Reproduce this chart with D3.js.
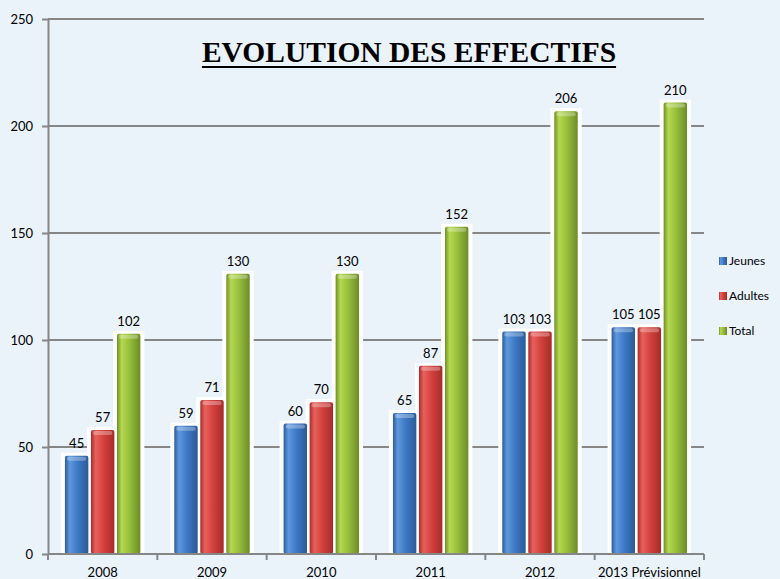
<!DOCTYPE html>
<html>
<head>
<meta charset="utf-8">
<script src="https://cdn.jsdelivr.net/npm/d3@7"></script>
<style>
  body { margin: 0; background: #eaf2fa; }
  svg { display: block; }
  .axis path, .axis line { stroke: #868686; stroke-width: 2; }
  .axis text { font-family: Lato, 'Open Sans', sans-serif; font-size: 13px; fill: #000; }
</style>
</head>
<body>
<svg id="chart"></svg>
<script>
const categories = ['2008', '2009', '2010', '2011', '2012', '2013 Prévisionnel'];
const seriesNames = ['Jeunes', 'Adultes', 'Total'];
const jeunes = [45, 59, 60, 65, 103, 105];
const adultes = [57, 71, 70, 87, 103, 105];
const total = [102, 130, 130, 152, 206, 210];
const yTicks = [0, 50, 100, 150, 200, 250];

const seriesData = [jeunes, adultes, total];
const colors = {
  Jeunes: ['#2a5c9e', '#5f98dd', '#3d78c4', '#2b5a98'],
  Adultes: ['#a82e2b', '#e8605c', '#d2403c', '#a52c29'],
  Total: ['#6f8f27', '#b5d84f', '#96bd3b', '#6c8c28']
};

const W = 780, H = 579;
const margin = {top: 19, bottom: 25, left: 48, right: 76};
const width = W - margin.left - margin.right;
const height = H - margin.top - margin.bottom;

const svg = d3.select('#chart').attr('width', W).attr('height', H);

// gradients for the bars
const defs = svg.append('defs');
seriesNames.forEach(function(s) {
  const g = defs.append('linearGradient').attr('id', 'grad-' + s)
    .attr('x1', '0%').attr('x2', '100%').attr('y1', '0%').attr('y2', '0%');
  g.append('stop').attr('offset', '0%').attr('stop-color', colors[s][0]);
  g.append('stop').attr('offset', '20%').attr('stop-color', colors[s][1]);
  g.append('stop').attr('offset', '55%').attr('stop-color', colors[s][2]);
  g.append('stop').attr('offset', '100%').attr('stop-color', colors[s][3]);
});

const vis = svg.append('g')
  .attr('transform', 'translate(' + margin.left + ',' + margin.top + ')');

// scales
const scaleX = d3.scaleBand()
  .domain(categories)
  .range([0, width])
  .paddingInner(0.31)
  .paddingOuter(0.155);

const scaleS = d3.scaleBand()
  .domain(seriesNames)
  .range([0, scaleX.bandwidth()])
  .paddingInner(0.1);

const scaleY = d3.scaleLinear()
  .domain([0, 250])
  .range([height, 0]);

// gridlines
vis.append('g')
  .selectAll('line')
  .data(yTicks.slice(1))
  .enter()
  .append('line')
  .attr('x1', 0)
  .attr('x2', width)
  .attr('y1', d => scaleY(d))
  .attr('y2', d => scaleY(d))
  .attr('stroke', '#868686')
  .attr('stroke-width', 2);

// title
const title = svg.append('text')
  .attr('x', 409)
  .attr('y', 62)
  .attr('text-anchor', 'middle')
  .style('font-family', "'Liberation Serif', 'Times New Roman', serif")
  .style('font-weight', 'bold')
  .style('font-size', '29.5px')
  .text('EVOLUTION DES EFFECTIFS');
const tb = title.node().getBBox();
svg.append('line')
  .attr('x1', tb.x).attr('x2', tb.x + tb.width)
  .attr('y1', 67).attr('y2', 67)
  .attr('stroke', '#000').attr('stroke-width', 2);

// flatten data
const flat = [];
categories.forEach(function(c, i) {
  seriesNames.forEach(function(s, j) {
    flat.push({cat: c, series: s, value: seriesData[j][i]});
  });
});

// white glow behind bars
vis.append('g')
  .selectAll('rect')
  .data(flat)
  .enter()
  .append('rect')
  .attr('x', d => scaleX(d.cat) + scaleS(d.series) - 4)
  .attr('y', d => scaleY(d.value) - 5)
  .attr('width', scaleS.bandwidth() + 8)
  .attr('height', d => height - scaleY(d.value) + 5)
  .attr('fill', '#ffffff');

// bars
vis.append('g')
  .selectAll('rect')
  .data(flat)
  .enter()
  .append('rect')
  .attr('x', d => scaleX(d.cat) + scaleS(d.series))
  .attr('y', d => scaleY(d.value) - 2)
  .attr('width', scaleS.bandwidth())
  .attr('height', d => height - scaleY(d.value) + 2)
  .attr('rx', 2)
  .attr('fill', d => 'url(#grad-' + d.series + ')');

// bar top highlights
vis.append('g')
  .selectAll('rect')
  .data(flat)
  .enter()
  .append('rect')
  .attr('x', d => scaleX(d.cat) + scaleS(d.series) + 2)
  .attr('y', d => scaleY(d.value) - 1)
  .attr('width', scaleS.bandwidth() - 4)
  .attr('height', 4)
  .attr('rx', 2)
  .attr('fill', '#ffffff')
  .attr('opacity', 0.3);

// value labels
vis.append('g')
  .selectAll('text')
  .data(flat)
  .enter()
  .append('text')
  .attr('x', d => scaleX(d.cat) + scaleS(d.series) + scaleS.bandwidth() / 2)
  .attr('y', d => scaleY(d.value) - 10)
  .attr('text-anchor', 'middle')
  .style('font-family', "Lato, 'Open Sans', sans-serif")
  .style('font-size', '13px')
  .text(d => d.value);

// axes
vis.append('g')
  .attr('class', 'axis axis--x')
  .attr('transform', 'translate(0,' + height + ')')
  .call(d3.axisBottom(scaleX).tickSize(0).tickPadding(14))
  .call(g => g.select('.domain').attr('d', 'M0,0H' + width));

vis.append('g')
  .attr('class', 'axis axis--x-ticks')
  .selectAll('line')
  .data(d3.range(categories.length + 1))
  .enter()
  .append('line')
  .attr('x1', i => i * scaleX.step())
  .attr('x2', i => i * scaleX.step())
  .attr('y1', height)
  .attr('y2', height + 6)
  .attr('stroke', '#868686')
  .attr('stroke-width', 2);

vis.append('g')
  .attr('class', 'axis axis--y')
  .call(d3.axisLeft(scaleY).tickValues(yTicks).tickSize(6).tickPadding(9).tickSizeOuter(0));

// legend
const legend = svg.append('g')
  .attr('transform', 'translate(719,257)');
seriesNames.forEach(function(s, i) {
  const row = legend.append('g').attr('transform', 'translate(0,' + (i * 35) + ')');
  row.append('rect')
    .attr('width', 8).attr('height', 8)
    .attr('fill', 'url(#grad-' + s + ')');
  row.append('text')
    .attr('x', 10).attr('y', 8)
    .style('font-family', "Lato, 'Open Sans', sans-serif")
    .style('font-size', '12px')
    .text(s);
});
</script>
</body>
</html>
